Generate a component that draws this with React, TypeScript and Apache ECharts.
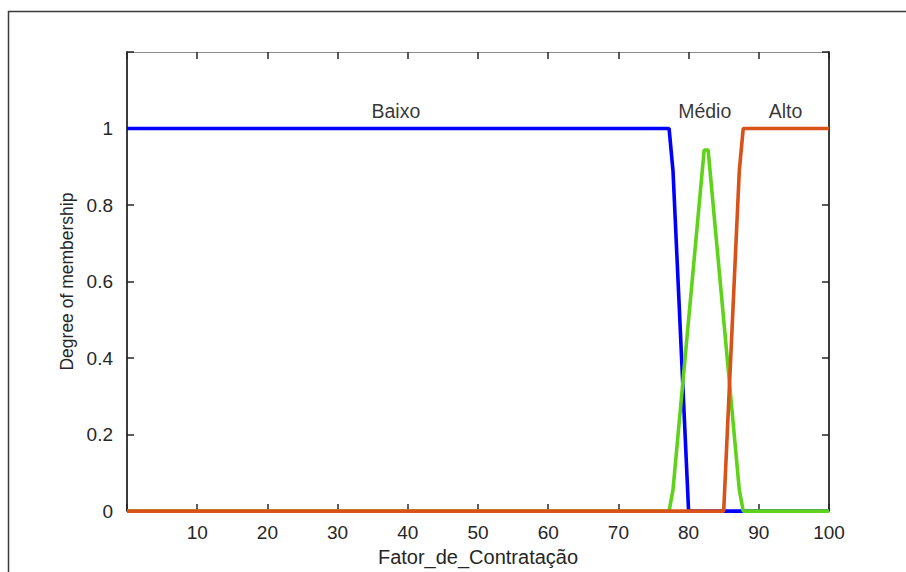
import React, { useEffect, useRef } from "react";
import * as echarts from "echarts";

// Membership functions (breakpoints)
const baixoX = [0, 77.22, 77.78, 80, 100];
const baixoY = [1, 1, 0.889, 0, 0];
const medioX = [0, 77.22, 77.78, 82.22, 82.78, 87.22, 87.78, 100];
const medioY = [0, 0, 0.056, 0.944, 0.944, 0.056, 0, 0];
const altoX = [0, 85, 87.22, 87.78, 100];
const altoY = [0, 0, 0.889, 1, 1];

// Term labels
const termNames = ["Baixo", "Médio", "Alto"];
const termX = [38.3, 82.3, 93.8];
const termY = [1.047, 1.047, 1.047];

const xName = "Fator_de_Contratação";
const yName = "Degree of membership";

const FONT = "'Liberation Sans', Arial, Helvetica, sans-serif";
const TXT = "#262626";

function zip(xs: number[], ys: number[]) {
  return xs.map((x, i) => [x, ys[i]]);
}

export default function App() {
  const ref = useRef<HTMLDivElement>(null);
  useEffect(() => {
    if (!ref.current) return;
    const chart = echarts.init(ref.current, null, { renderer: "svg", width: 906, height: 572 });
    const xBase = {
      type: "value" as const,
      min: 0,
      max: 100,
      interval: 10,
      splitLine: { show: false },
      axisTick: { show: true, inside: true, length: 7, lineStyle: { color: TXT, width: 1.5 } },
    };
    const yBase = {
      type: "value" as const,
      min: 0,
      max: 1.2,
      interval: 0.2,
      splitLine: { show: false },
      axisTick: { show: true, inside: true, length: 7, lineStyle: { color: TXT, width: 1.5 } },
    };
    chart.setOption({
      animation: false,
      backgroundColor: "#ffffff",
      textStyle: { fontFamily: FONT },
      grid: { left: 127, top: 52, right: 77, bottom: 57, containLabel: false },
      graphic: [
        {
          type: "rect",
          shape: { x: 8.5, y: 11.5, width: 1200, height: 1200 },
          style: { fill: "none", stroke: "#3a3a3a", lineWidth: 1.5 },
          silent: true,
          z: -1,
        },
      ],
      xAxis: [
        {
          ...xBase,
          position: "bottom",
          name: xName,
          nameLocation: "middle",
          nameGap: 27,
          nameTextStyle: { fontSize: 20, color: TXT, fontFamily: FONT },
          axisLine: { show: true, onZero: false, lineStyle: { color: "#8c8c8c", width: 1 } },
          axisLabel: {
            show: true,
            fontSize: 19,
            color: TXT,
            fontFamily: FONT,
            margin: 12,
            showMaxLabel: true,
            showMinLabel: true,
            formatter: (v: number) => (v === 0 ? "" : String(v)),
          },
        },
        {
          ...xBase,
          position: "top",
          axisLine: { show: true, onZero: false, lineStyle: { color: "#8c8c8c", width: 1 } },
          axisLabel: { show: false },
        },
      ],
      yAxis: [
        {
          ...yBase,
          position: "left",
          name: yName,
          nameLocation: "middle",
          nameRotate: 90,
          nameGap: 50,
          nameTextStyle: { fontSize: 17.5, color: TXT, fontFamily: FONT },
          axisLine: { show: true, onZero: false, lineStyle: { color: TXT, width: 1.8 } },
          axisLabel: {
            show: true,
            fontSize: 19,
            color: TXT,
            fontFamily: FONT,
            margin: 14,
            formatter: (v: number) => (Math.abs(v - 1.2) < 1e-6 ? "" : String(+v.toFixed(1))),
          },
        },
        {
          ...yBase,
          position: "right",
          axisLine: { show: true, onZero: false, lineStyle: { color: TXT, width: 1.8 } },
          axisLabel: { show: false },
        },
      ],
      series: [
        {
          name: "Baixo",
          type: "line",
          data: zip(baixoX, baixoY),
          showSymbol: false,
          clip: false,
          lineStyle: { color: "#0000ff", width: 3.6 },
          z: 3,
        },
        {
          name: "Médio",
          type: "line",
          data: zip(medioX, medioY),
          showSymbol: false,
          clip: false,
          lineStyle: { color: "#5fd31a", width: 3.6 },
          z: 4,
        },
        {
          name: "Alto",
          type: "line",
          data: zip(altoX, altoY),
          showSymbol: false,
          clip: false,
          lineStyle: { color: "#d95319", width: 3.6 },
          z: 5,
        },
        {
          name: "labels",
          type: "scatter",
          symbolSize: 0,
          data: termNames.map((n, i) => ({ value: [termX[i], termY[i]], name: n })),
          label: {
            show: true,
            position: "inside",
            formatter: (p: any) => p.name,
            fontSize: 19.5,
            color: "#000000",
            fontFamily: FONT,
          },
          silent: true,
          z: 6,
        },
      ],
    });
    return () => chart.dispose();
  }, []);
  return (
    <div
      ref={ref}
      style={{ position: "fixed", left: 0, top: 0, width: 906, height: 572 }}
    />
  );
}
